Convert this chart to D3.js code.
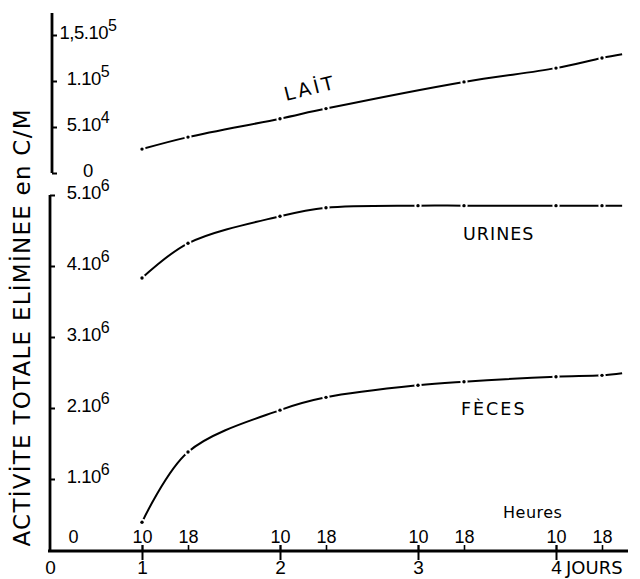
<!DOCTYPE html>
<html>
<head>
<meta charset="utf-8">
<script src="https://cdn.jsdelivr.net/npm/d3@7"></script>
<style>
body { margin: 0; background: #fff; }
svg { display: block; font-family: "DejaVu Sans", sans-serif; }
</style>
</head>
<body>
<svg id="chart"></svg>
<script>
'use strict';

let WIDTH = 640;
let HEIGHT = 579;

// time in hours from the origin of the drawing (day 1, 10 h = 16)
let LAIT_T = [16, 24, 40, 48, 72, 88, 96, 99.5];
let LAIT_V = [2.6e4, 3.9e4, 5.9e4, 7.0e4, 9.9e4, 1.14e5, 1.25e5, 1.29e5];

let URINES_T = [16, 24, 40, 48, 64, 72, 88, 96, 99.5];
let URINES_V = [3.83e6, 4.32e6, 4.70e6, 4.82e6, 4.85e6, 4.85e6, 4.85e6, 4.85e6, 4.85e6];

let FECES_T = [16, 24, 40, 48, 64, 72, 88, 96, 99.5];
let FECES_V = [0.39e6, 1.38e6, 1.97e6, 2.15e6, 2.32e6, 2.37e6, 2.44e6, 2.46e6, 2.49e6];

// axes
let DAY_T = [0, 16, 40, 64, 88];
let DAY_LABELS = ['0', '1', '2', '3', '4'];
let HOUR_T = [4, 16, 24, 40, 48, 64, 72, 88, 96];
let HOUR_LABELS = ['0', '10', '18', '10', '18', '10', '18', '10', '18'];

let TOP_TICKS = [0, 5e4, 1e5, 1.5e5];
let TOP_LABELS = [['0', ''], ['5.10', '4'], ['1.10', '5'], ['1,5.10', '5']];
let BOT_TICKS = [1e6, 2e6, 3e6, 4e6, 5e6];
let BOT_LABELS = [['1.10', '6'], ['2.10', '6'], ['3.10', '6'], ['4.10', '6'], ['5.10', '6']];

let svg = d3.select('#chart').attr('width', WIDTH).attr('height', HEIGHT);
svg.append('rect').attr('width', WIDTH).attr('height', HEIGHT).attr('fill', '#fff');

let x = d3.scaleLinear().domain([0, 100]).range([50, 625]);
let yTop = d3.scaleLinear().domain([0, 1.5e5]).range([173, 35]);
let yBot = d3.scaleLinear().domain([0, 5e6]).range([550, 195]);

// y axes (ticks point right, labels on the right of the line)
function yAxis(scale, ticks, labels, ax, y0, y1) {
    let g = svg.append('g').attr('transform', 'translate(' + ax + ',0)');
    g.call(d3.axisRight(scale).tickValues(ticks).tickSize(5).tickFormat(''));
    g.select('.domain').remove();
    g.selectAll('.tick line').attr('stroke', '#000').attr('stroke-width', 2);
    g.append('line').attr('y1', y0).attr('y2', y1)
        .attr('stroke', '#000').attr('stroke-width', 2.8);
    g.selectAll('.tick text').each(function(d, i) {
        let t = d3.select(this)
            .attr('x', 88 - ax).attr('dy', null).attr('y', 3)
            .attr('text-anchor', 'middle').attr('fill', '#000')
            .attr('font-size', 18.5).attr('letter-spacing', -0.5);
        t.append('tspan').text(labels[i][0]);
        t.append('tspan').attr('font-size', 16).attr('dy', -8).text(labels[i][1]);
    });
}
yAxis(yTop, TOP_TICKS, TOP_LABELS, 52, 13, 173);
yAxis(yBot, BOT_TICKS, BOT_LABELS, 50, 195, 550);

// x axis
let AXY = 551;
svg.append('line').attr('x1', 48).attr('x2', 628).attr('y1', AXY).attr('y2', AXY)
    .attr('stroke', '#000').attr('stroke-width', 2.8);

let gDay = svg.append('g').attr('transform', 'translate(0,' + AXY + ')')
    .call(d3.axisBottom(x).tickValues(DAY_T).tickSize(9).tickPadding(1)
        .tickFormat(function(d, i) { return DAY_LABELS[i]; }));
gDay.select('.domain').remove();
gDay.selectAll('.tick line').attr('y1', -6).attr('stroke', '#000').attr('stroke-width', 2)
    .filter(function(d) { return d === 0; }).remove();
gDay.selectAll('.tick text').attr('font-size', 19).attr('fill', '#000');

let gHour = svg.append('g').attr('transform', 'translate(0,' + AXY + ')')
    .call(d3.axisTop(x).tickValues(HOUR_T).tickSize(6).tickPadding(2)
        .tickFormat(function(d, i) { return HOUR_LABELS[i]; }));
gHour.select('.domain').remove();
gHour.selectAll('.tick line').attr('stroke', '#000').attr('stroke-width', 1.6)
    .filter(function(d) { return d === 4; }).remove();
gHour.selectAll('.tick text').attr('font-size', 18).attr('fill', '#000');

svg.append('text').attr('x', 566).attr('y', 574).attr('font-size', 18).text('JOURS');
svg.append('text').attr('x', 503).attr('y', 518).attr('font-size', 16)
    .attr('letter-spacing', 0.5).text('Heures');

// y title
svg.append('text')
    .attr('transform', 'translate(30,328) rotate(-90)')
    .attr('text-anchor', 'middle').attr('font-size', 23)
    .attr('textLength', 437).attr('lengthAdjust', 'spacing')
    .text('ACTİVİTE  TOTALE  ELİMİNEE  en  C/M');

// curves
function series(ts, vs, scale) {
    let pts = ts.map(function(t, i) { return { t: t, v: vs[i] }; });
    let line = d3.line()
        .x(function(d) { return x(d.t); })
        .y(function(d) { return scale(d.v); })
        .curve(d3.curveCatmullRom.alpha(0.5));
    svg.append('path').datum(pts).attr('d', line)
        .attr('fill', 'none').attr('stroke', '#000').attr('stroke-width', 2);
    let marks = pts.slice(0, pts.length - 1);
    // small gap around each measured point, then the dot
    svg.append('g').selectAll('circle').data(marks).enter().append('circle')
        .attr('cx', function(d) { return x(d.t); })
        .attr('cy', function(d) { return scale(d.v); })
        .attr('r', 3.6).attr('fill', '#fff');
    svg.append('g').selectAll('circle').data(marks).enter().append('circle')
        .attr('cx', function(d) { return x(d.t); })
        .attr('cy', function(d) { return scale(d.v); })
        .attr('r', 1.7).attr('fill', '#000');
}
series(LAIT_T, LAIT_V, yTop);
series(URINES_T, URINES_V, yBot);
series(FECES_T, FECES_V, yBot);

// curve labels
svg.append('text').attr('transform', 'translate(286,101) rotate(-14)')
    .attr('font-size', 19).attr('letter-spacing', 3).text('LAİT');
svg.append('text').attr('x', 463).attr('y', 240)
    .attr('font-size', 17.5).attr('letter-spacing', 1).text('URINES');
svg.append('text').attr('x', 461).attr('y', 415)
    .attr('font-size', 17.5).attr('letter-spacing', 2).text('FÈCES');
</script>
</body>
</html>
